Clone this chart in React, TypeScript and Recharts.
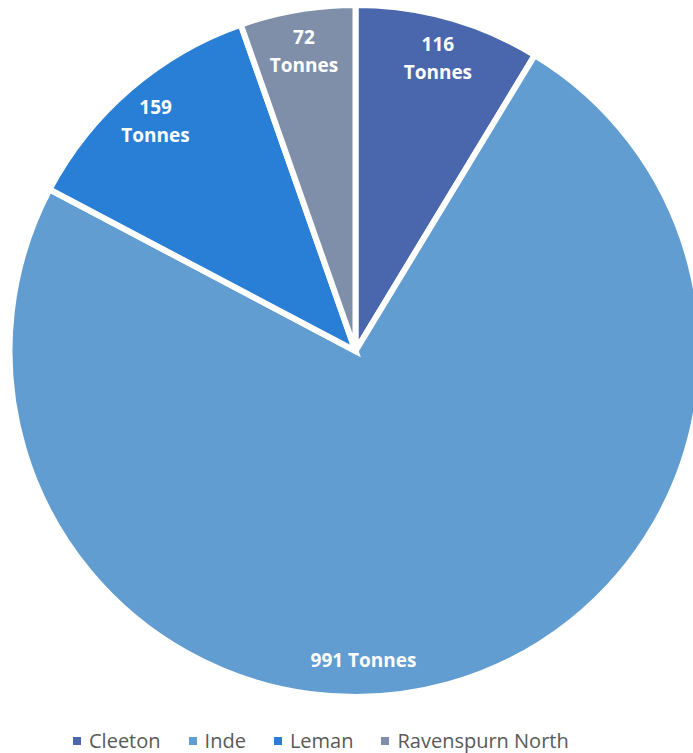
import React from "react";
import { PieChart, Pie, Cell, Legend } from "recharts";

const categories = ["Cleeton", "Inde", "Leman", "Ravenspurn North"];
const values = [116, 991, 159, 72];
const colors = ["#4A66AC", "#629DD1", "#297FD5", "#7F8FA9"];

const data = categories.map((name, i) => ({ name, value: values[i] }));

const RAD = Math.PI / 180;

const renderLabel = (props: any) => {
  const { cx, cy, midAngle, outerRadius, value, percent } = props;
  const r = outerRadius * 0.885;
  if (percent > 0.5) {
    const ang = -88.5;
    const x = cx + r * Math.cos(-ang * RAD);
    const y = cy + r * Math.sin(-ang * RAD);
    return (
      <text x={x} y={y + 10} fill="#FFFFFF" textAnchor="middle" fontFamily="'Open Sans', sans-serif" fontWeight={700} fontSize={19}>
        {`${value} Tonnes`}
      </text>
    );
  }
  const x = cx + r * Math.cos(-midAngle * RAD);
  const y = cy + r * Math.sin(-midAngle * RAD);
  return (
    <text fill="#FFFFFF" textAnchor="middle" fontFamily="'Open Sans', sans-serif" fontWeight={700} fontSize={19}>
      <tspan x={x} y={y - 5}>{value}</tspan>
      <tspan x={x} y={y + 23}>Tonnes</tspan>
    </text>
  );
};

const renderLegend = () => (
  <div style={{ display: "flex", justifyContent: "flex-start", alignItems: "center", paddingLeft: 73, fontFamily: "'Open Sans', sans-serif", fontSize: 20, lineHeight: "30px", color: "#595959" }}>
    {categories.map((c, i) => (
      <div key={c} style={{ display: "flex", alignItems: "center", marginLeft: i === 0 ? 0 : 28 }}>
        <span style={{ display: "inline-block", width: 8, height: 8, background: colors[i], marginRight: 8 }} />
        <span>{c}</span>
      </div>
    ))}
  </div>
);

export default function App() {
  return (
    <div style={{ position: "absolute", left: 0, top: 0, width: 693, height: 753, background: "#fff", overflow: "hidden" }}>
      <PieChart width={693} height={753} margin={{ top: 0, right: 0, bottom: 0, left: 0 }}>
        <Pie
          data={data}
          dataKey="value"
          nameKey="name"
          cx={355.5}
          cy={351}
          outerRadius={346}
          startAngle={90}
          endAngle={-270}
          stroke="#FFFFFF"
          strokeWidth={6}
          label={renderLabel}
          labelLine={false}
          isAnimationActive={false}
        >
          {data.map((d, i) => (
            <Cell key={d.name} fill={colors[i]} />
          ))}
        </Pie>
        <Legend
          content={renderLegend}
          wrapperStyle={{ position: "absolute", top: 726, left: 0, width: 693, height: 30 }}
        />
      </PieChart>
    </div>
  );
}
